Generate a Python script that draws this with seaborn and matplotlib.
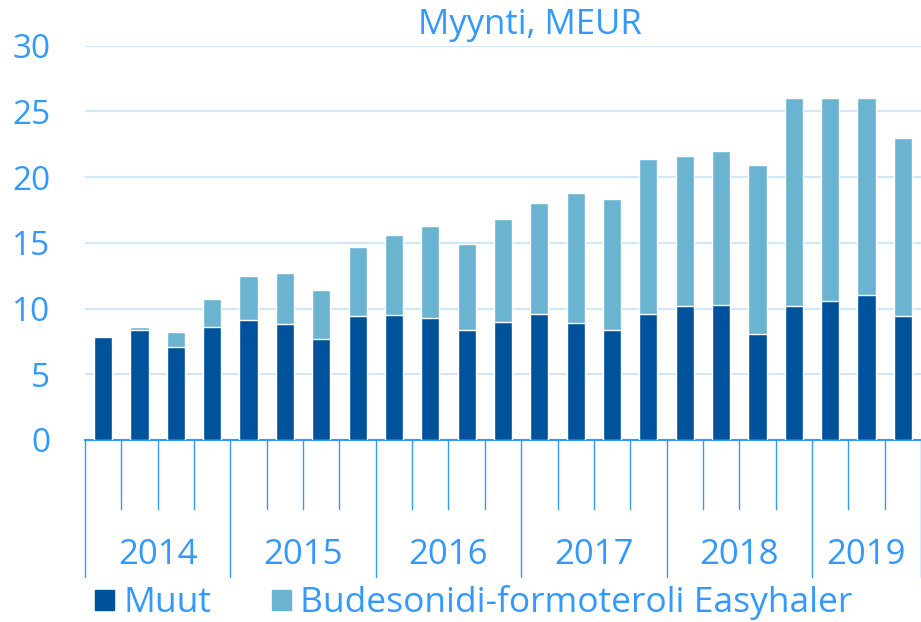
import matplotlib
matplotlib.use("Agg")
import matplotlib.pyplot as plt
import matplotlib.patches as mpatches
import pandas as pd
import seaborn as sns

# data (MEUR per quarter)
years = ["2014", "2015", "2016", "2017", "2018", "2019"]
quarters_per_year = [4, 4, 4, 4, 4, 3]
muut = [7.8, 8.4, 7.1, 8.6, 9.1, 8.8, 7.7, 9.4, 9.5, 9.3, 8.4, 9.0,
        9.6, 8.9, 8.4, 9.6, 10.2, 10.3, 8.1, 10.2, 10.6, 11.0, 9.4]
total = [7.8, 8.6, 8.2, 10.7, 12.5, 12.7, 11.4, 14.7, 15.6, 16.3, 14.9, 16.8,
         18.0, 18.8, 18.3, 21.4, 21.6, 22.0, 20.9, 26.0, 26.0, 26.0, 23.0]
series_names = ["Muut", "Budesonidi-formoteroli Easyhaler"]

labels = [f"{y} Q{q + 1}" for y, n in zip(years, quarters_per_year) for q in range(n)]
df = pd.DataFrame({"kvartaali": labels, "muut": muut, "total": total})

dark = "#00539B"
light = "#6AB3D1"
txt = "#3399FF"
grid = "#CFE6FB"

sns.set_theme(style="white")
plt.rcParams["font.family"] = ["Open Sans", "DejaVu Sans"]

fig = plt.figure(figsize=(9.21, 6.22), dpi=100)
ax = fig.add_axes([85 / 921, 182 / 622, 836 / 921, (440 - 45.7) / 622])

sns.barplot(data=df, x="kvartaali", y="total", color=light, width=0.5,
            saturation=1, ax=ax, zorder=2)
sns.barplot(data=df, x="kvartaali", y="muut", color=dark, width=0.5,
            saturation=1, ax=ax, zorder=3)

n = len(labels)
ax.set_xlim(-0.5, n - 0.5)
ax.set_ylim(0, 30)
ax.set_yticks(range(0, 31, 5))
ax.yaxis.grid(True, color=grid, linewidth=1.5, zorder=0)
ax.set_axisbelow(True)
ax.tick_params(axis="y", length=0, pad=25, labelsize=24, labelcolor=txt)
ax.set_xticks([])
ax.set_xlabel("")
ax.set_ylabel("")
for s in ["left", "right", "top"]:
    ax.spines[s].set_visible(False)
ax.spines["bottom"].set_color(txt)
ax.spines["bottom"].set_linewidth(1.5)

# category ticks below the axis
trans = ax.get_xaxis_transform()
ax_h = (440 - 45.7)
short = -69 / ax_h
long_ = -137 / ax_h
bounds = [0]
for q in quarters_per_year:
    bounds.append(bounds[-1] + q)
for i in range(n + 1):
    x = i - 0.5
    y_end = long_ if i in bounds else short
    ax.plot([x, x], [0, y_end], transform=trans, color=txt, linewidth=1,
            clip_on=False)

# year labels
for y, a, b in zip(years, bounds[:-1], bounds[1:]):
    ax.text((a + b - 1) / 2, -115 / ax_h, y, transform=trans, ha="center",
            va="center", fontsize=25, color=txt)

fig.text(530 / 921, 1 - 25 / 622, "Myynti, MEUR", ha="center", va="center",
         fontsize=25, color=txt)

handles = [mpatches.Patch(color=dark, label=series_names[0]),
           mpatches.Patch(color=light, label=series_names[1])]
leg = fig.legend(handles=handles, loc="center left",
                 bbox_to_anchor=(95 / 921, 1 - 603 / 622), ncol=2, frameon=False,
                 fontsize=25.5, handlelength=0.55, handleheight=0.5,
                 handletextpad=0.25, columnspacing=1.7, borderaxespad=0,
                 borderpad=0)
for t in leg.get_texts():
    t.set_color(txt)

fig.savefig("out.png", dpi=100)
